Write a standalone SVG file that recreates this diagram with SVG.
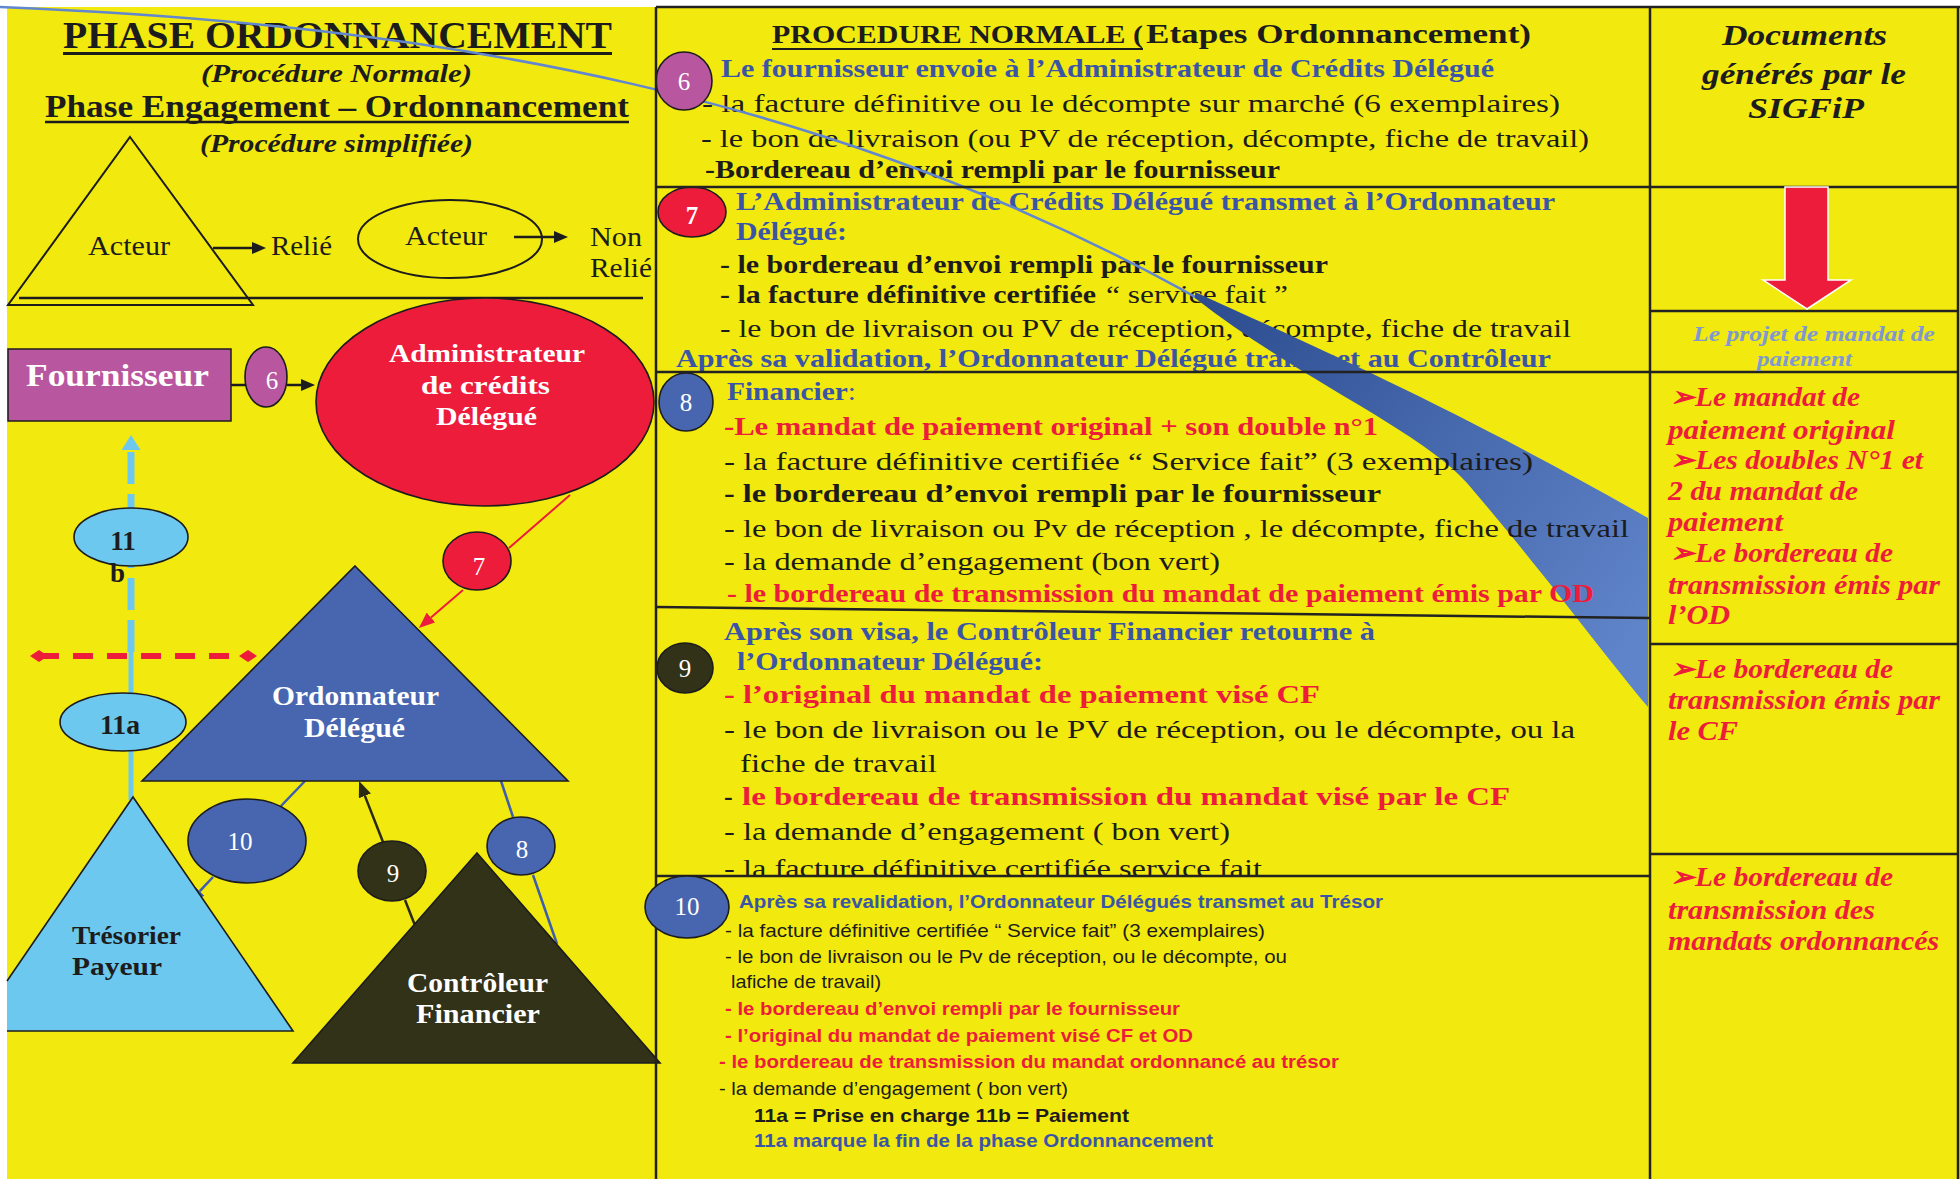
<svg xmlns="http://www.w3.org/2000/svg" width="1960" height="1179" viewBox="0 0 1960 1179">
<defs>
<style>
text{font-family:"Liberation Serif","Times New Roman",serif;fill:#1C1C1C}
.s{font-family:"Liberation Sans",Arial,sans-serif}
.b{font-weight:bold}
.i{font-style:italic}
.bl{fill:#3A55A6}
.rd{fill:#EC1C3A}
.w{fill:#fff}
.lb{fill:#7E98D2}
.grid{stroke:#222;stroke-width:2.5;fill:none}
.edge{stroke:#1C1C1C;stroke-width:1.6}
.num{font-size:25px;text-anchor:middle;fill:#fff}
.f26{font-size:26px}
.f19{font-size:19px}
.f27{font-size:27px}
.rc{font-size:27px;font-weight:bold;font-style:italic;fill:#EC1C3A}
</style>
<linearGradient id="wg" gradientUnits="userSpaceOnUse" x1="1195" y1="292" x2="1648" y2="620">
<stop offset="0" stop-color="#2B4B8E"/><stop offset="1" stop-color="#6084C9"/>
</linearGradient>
<marker id="mK" viewBox="0 0 14 12" refX="0" refY="6" markerWidth="14" markerHeight="12" markerUnits="userSpaceOnUse" orient="auto"><path d="M0,0 L14,6 L0,12 z" fill="#1C1C1C"/></marker>
<marker id="mR" viewBox="0 0 16 13" refX="0" refY="6.5" markerWidth="16" markerHeight="13" markerUnits="userSpaceOnUse" orient="auto"><path d="M0,0 L16,6.5 L0,13 z" fill="#EC1C3A"/></marker>
<marker id="mB" viewBox="0 0 16 13" refX="0" refY="6.5" markerWidth="16" markerHeight="13" markerUnits="userSpaceOnUse" orient="auto"><path d="M0,0 L16,6.5 L0,13 z" fill="#3D5DAE"/></marker>
<marker id="mD" viewBox="0 0 16 13" refX="0" refY="6.5" markerWidth="16" markerHeight="13" markerUnits="userSpaceOnUse" orient="auto"><path d="M0,0 L16,6.5 L0,13 z" fill="#2A2A14"/></marker>
<marker id="mL" viewBox="0 0 15 19" refX="0" refY="9.5" markerWidth="15" markerHeight="19" markerUnits="userSpaceOnUse" orient="auto"><path d="M0,0 L15,9.5 L0,19 z" fill="#6DC8EF"/></marker>
<marker id="mDia" viewBox="0 0 18 12" refX="9" refY="6" markerWidth="18" markerHeight="12" markerUnits="userSpaceOnUse" orient="auto"><path d="M0,6 L9,0 L18,6 L9,12 z" fill="#EC1C3A"/></marker>
</defs>

<rect x="0" y="0" width="1960" height="1179" fill="#fff"/>
<rect x="7" y="7" width="1953" height="1172" fill="#F2E90F"/>

<!-- left column titles -->
<g id="titles">
<text x="63" y="48" class="b" font-size="37" textLength="549" lengthAdjust="spacingAndGlyphs">PHASE ORDONNANCEMENT</text>
<line x1="63" y1="53.5" x2="612" y2="53.5" stroke="#1C1C1C" stroke-width="3"/>
<text x="201" y="82" class="b i" font-size="25" textLength="271" lengthAdjust="spacingAndGlyphs">(Procédure  Normale)</text>
<text x="45" y="117" class="b" font-size="31" textLength="584" lengthAdjust="spacingAndGlyphs">Phase Engagement – Ordonnancement</text>
<line x1="45" y1="122" x2="629" y2="122" stroke="#1C1C1C" stroke-width="2.5"/>
<text x="200" y="152" class="b i" font-size="25" textLength="273" lengthAdjust="spacingAndGlyphs">(Procédure simplifiée)</text>
</g>

<g id="legend">
<polygon points="130,137 253,305 8,305" fill="none" stroke="#1C1C1C" stroke-width="2"/>
<text x="88" y="255" class="f27" textLength="82" lengthAdjust="spacingAndGlyphs">Acteur</text>
<text x="271" y="255" class="f27" textLength="61" lengthAdjust="spacingAndGlyphs">Relié</text>
<ellipse cx="450" cy="239" rx="92" ry="39" fill="none" stroke="#1C1C1C" stroke-width="2"/>
<text x="405" y="245" class="f27" textLength="82" lengthAdjust="spacingAndGlyphs">Acteur</text>
<text x="590" y="246" class="f27" textLength="52" lengthAdjust="spacingAndGlyphs">Non</text>
<text x="590" y="277" class="f27" textLength="62" lengthAdjust="spacingAndGlyphs">Relié</text>
<line x1="19" y1="298" x2="643" y2="298" stroke="#1C1C1C" stroke-width="2.5"/>
</g>

<!-- connectors -->
<g id="connectors" fill="none">
<line x1="213" y1="248" x2="252" y2="248" stroke="#1C1C1C" stroke-width="2.5" marker-end="url(#mK)"/>
<line x1="514" y1="237" x2="554" y2="237" stroke="#1C1C1C" stroke-width="2.5" marker-end="url(#mK)"/>
<line x1="231" y1="385" x2="246" y2="385" stroke="#1C1C1C" stroke-width="2.5"/>
<line x1="287" y1="385" x2="301" y2="385" stroke="#1C1C1C" stroke-width="2.5" marker-end="url(#mK)"/>
<line x1="570" y1="495" x2="509" y2="548" stroke="#EC1C3A" stroke-width="2"/>
<line x1="463" y1="590" x2="431" y2="617.5" stroke="#EC1C3A" stroke-width="2" marker-end="url(#mR)"/>
<line x1="305" y1="781" x2="281" y2="806" stroke="#3D5DAE" stroke-width="2.5"/>
<line x1="213" y1="877" x2="199.8" y2="891.2" stroke="#3D5DAE" stroke-width="2.5" marker-end="url(#mB)"/>
<line x1="405" y1="900" x2="416" y2="928" stroke="#2A2A14" stroke-width="2.5"/>
<line x1="383" y1="842" x2="364.9" y2="795.9" stroke="#2A2A14" stroke-width="2.5" marker-end="url(#mD)"/>
<line x1="501" y1="781" x2="513" y2="817" stroke="#3D5DAE" stroke-width="2.5"/>
<line x1="533" y1="875" x2="557" y2="944" stroke="#3D5DAE" stroke-width="2.5"/>
<line x1="131" y1="652" x2="131" y2="450" stroke="#6DC8EF" stroke-width="7" stroke-dasharray="32 10" marker-end="url(#mL)"/>
<line x1="131" y1="650" x2="131" y2="696" stroke="#6DC8EF" stroke-width="5"/>
<line x1="131" y1="750" x2="131" y2="800" stroke="#6DC8EF" stroke-width="5"/>
<line x1="39" y1="656" x2="248" y2="656" stroke="#EC1C3A" stroke-width="6" stroke-dasharray="20 14" marker-start="url(#mDia)" marker-end="url(#mDia)"/>
</g>

<g id="fournisseur">
<rect x="8" y="349" width="223" height="72" fill="#B8569F" stroke="#1C1C1C" stroke-width="1.5"/>
<text x="26" y="386" class="b w" font-size="32" textLength="183" lengthAdjust="spacingAndGlyphs">Fournisseur</text>
</g>
<g id="step6-left">
<ellipse cx="266" cy="377" rx="21" ry="30" fill="#B8569F" class="edge"/>
<text x="272" y="389" class="num">6</text>
</g>
<g id="administrateur">
<ellipse cx="485" cy="402" rx="169" ry="104" fill="#EC1C3A" class="edge"/>
<text x="389" y="362" class="b w" font-size="26" textLength="196" lengthAdjust="spacingAndGlyphs">Administrateur</text>
<text x="421" y="394" class="b w" font-size="26" textLength="129" lengthAdjust="spacingAndGlyphs">de  crédits</text>
<text x="436" y="425" class="b w" font-size="26" textLength="101" lengthAdjust="spacingAndGlyphs">Délégué</text>
</g>
<g id="step7-left">
<ellipse cx="477" cy="561" rx="34" ry="29" fill="#EC1C3A" class="edge"/>
<text x="479" y="575" class="num">7</text>
</g>
<g id="step11b">
<ellipse cx="131" cy="537" rx="57" ry="29" fill="#6DC8EF" class="edge"/>
<text x="123" y="550" class="b" font-size="27" text-anchor="middle">11</text>
<text x="110" y="582" class="b" font-size="27">b</text>
</g>
<g id="step11a">
<ellipse cx="123" cy="722" rx="63" ry="29" fill="#6DC8EF" class="edge"/>
<text x="100" y="734" class="b" font-size="27" textLength="40" lengthAdjust="spacingAndGlyphs">11a</text>
</g>
<g id="ordonnateur">
<polygon points="355,566 568,781 142,781" fill="#4866B0" class="edge"/>
<text x="272" y="705" class="b w" font-size="27" textLength="167" lengthAdjust="spacingAndGlyphs">Ordonnateur</text>
<text x="304" y="737" class="b w" font-size="27" textLength="101" lengthAdjust="spacingAndGlyphs">Délégué</text>
</g>
<g id="tresorier">
<polygon points="133,797 293,1031 7,1031 7,981" fill="#6DC8EF"/>
<polyline points="7,981 133,797 293,1031 7,1031" fill="none" class="edge"/>
<text x="72" y="944" class="b" font-size="26" textLength="109" lengthAdjust="spacingAndGlyphs">Trésorier</text>
<text x="72" y="975" class="b" font-size="26" textLength="90" lengthAdjust="spacingAndGlyphs">Payeur</text>
</g>
<g id="step10-left">
<ellipse cx="247" cy="841" rx="59" ry="42" fill="#4866B0" class="edge"/>
<text x="240" y="850" class="num">10</text>
</g>
<g id="step9-left">
<ellipse cx="392" cy="871" rx="34" ry="30" fill="#323218" class="edge"/>
<text x="393" y="882" class="num">9</text>
</g>
<g id="step8-left">
<ellipse cx="521" cy="846" rx="34" ry="29" fill="#4866B0" class="edge"/>
<text x="522" y="858" class="num">8</text>
</g>
<g id="controleur">
<polygon points="477,853 660,1063 293,1063" fill="#323218" class="edge"/>
<text x="407" y="992" class="b w" font-size="28" textLength="141" lengthAdjust="spacingAndGlyphs">Contrôleur</text>
<text x="416" y="1023" class="b w" font-size="28" textLength="124" lengthAdjust="spacingAndGlyphs">Financier</text>
</g>

<!-- middle column: sections 6 and 7 -->
<g id="header-mid">
<text x="772" y="43" class="b" font-size="26" textLength="371" lengthAdjust="spacingAndGlyphs">PROCEDURE NORMALE (</text>
<line x1="772" y1="49" x2="1143" y2="49" stroke="#1C1C1C" stroke-width="2"/>
<text x="1146" y="43" class="b" font-size="27" textLength="385" lengthAdjust="spacingAndGlyphs">Etapes Ordonnancement)</text>
</g>
<g id="section6">
<text x="721" y="77" class="b bl f26" textLength="773" lengthAdjust="spacingAndGlyphs">Le fournisseur envoie à l’Administrateur  de Crédits Délégué</text>
<text x="702" y="112" class="f26" textLength="858" lengthAdjust="spacingAndGlyphs">- la facture définitive  ou le décompte sur marché  (6 exemplaires)</text>
<text x="701" y="147" class="f26" textLength="888" lengthAdjust="spacingAndGlyphs">- le bon de livraison (ou PV de réception, décompte, fiche de travail)</text>
<text x="705" y="178" class="b f26" textLength="575" lengthAdjust="spacingAndGlyphs">-Bordereau d’envoi rempli par le fournisseur</text>
</g>
<g id="section7">
<text x="736" y="210" class="b bl f26" textLength="819" lengthAdjust="spacingAndGlyphs">L’Administrateur de Crédits Délégué  transmet à l’Ordonnateur</text>
<text x="736" y="240" class="b bl f26" textLength="111" lengthAdjust="spacingAndGlyphs">Délégué:</text>
<text x="720" y="273" class="b f26" textLength="608" lengthAdjust="spacingAndGlyphs">- le bordereau d’envoi rempli par le fournisseur</text>
<text x="720" y="303" class="b f26" textLength="376" lengthAdjust="spacingAndGlyphs">- la facture définitive certifiée</text>
<text x="1106" y="303" class="f26" textLength="182" lengthAdjust="spacingAndGlyphs">“ service fait ”</text>
<text x="720" y="337" class="f26" textLength="851" lengthAdjust="spacingAndGlyphs">- le bon de livraison ou PV de réception, décompte, fiche de travail</text>
<text x="676" y="367" class="b bl f26" textLength="875" lengthAdjust="spacingAndGlyphs">Après sa validation, l’Ordonnateur  Délégué transmet au  Contrôleur</text>
</g>

<!-- blue comet-shaped link -->
<g id="blue-link">
<path d="M0,7 C420,24 849,88 1249,328" fill="none" stroke="#6287D0" stroke-width="2.5"/>
<path d="M1195,292 C1300,340 1450,405 1648,518 L1648,707 C1600,650 1550,580 1467,483 C1420,430 1300,380 1195,298 Z" fill="url(#wg)"/>
</g>

<g id="step6-mid">
<ellipse cx="684" cy="81" rx="28" ry="29" fill="#B8569F" class="edge"/>
<text x="684" y="90" class="num">6</text>
</g>
<g id="step7-mid">
<ellipse cx="692" cy="212" rx="34" ry="25" fill="#EC1C3A" class="edge"/>
<text x="692" y="224" class="num b">7</text>
</g>

<g id="section8">
<text x="727" y="400" class="b bl f26" textLength="129" lengthAdjust="spacingAndGlyphs">Financier<tspan font-weight="normal">:</tspan></text>
<text x="724" y="435" class="b rd f26" textLength="654" lengthAdjust="spacingAndGlyphs">-Le mandat de paiement original +  son double  n°1</text>
<text x="724" y="470" class="f26" textLength="809" lengthAdjust="spacingAndGlyphs">- la facture définitive certifiée “  Service fait” (3 exemplaires)</text>
<text x="724" y="502" class="b f26" textLength="657" lengthAdjust="spacingAndGlyphs">- le bordereau d’envoi rempli par le fournisseur</text>
<text x="724" y="537" class="f26" textLength="905" lengthAdjust="spacingAndGlyphs">- le bon de livraison ou Pv de réception , le décompte, fiche de travail</text>
<text x="724" y="570" class="f26" textLength="496" lengthAdjust="spacingAndGlyphs">- la demande d’engagement (bon vert)</text>
<text x="727" y="602" class="b rd f26" textLength="867" lengthAdjust="spacingAndGlyphs">- le bordereau de transmission du mandat de paiement émis par OD</text>
</g>
<g id="step8-mid">
<ellipse cx="686" cy="402" rx="27" ry="29" fill="#4866B0" class="edge"/>
<text x="686" y="411" class="num">8</text>
</g>

<g id="section9">
<text x="724" y="640" class="b bl f26" textLength="651" lengthAdjust="spacingAndGlyphs">Après  son visa, le Contrôleur Financier  retourne à</text>
<text x="737" y="670" class="b bl f26" textLength="306" lengthAdjust="spacingAndGlyphs">l’Ordonnateur Délégué:</text>
<text x="724" y="703" class="b rd f26" textLength="596" lengthAdjust="spacingAndGlyphs">- l’original du mandat de paiement visé CF</text>
<text x="724" y="738" class="f26" textLength="851" lengthAdjust="spacingAndGlyphs">- le bon de livraison ou le PV de réception, ou le décompte, ou  la</text>
<text x="740" y="772" class="f26" textLength="197" lengthAdjust="spacingAndGlyphs">fiche de travail</text>
<text x="724" y="805" class="b f26">-</text>
<text x="742" y="805" class="b rd f26" textLength="768" lengthAdjust="spacingAndGlyphs">le bordereau de transmission du mandat visé  par le CF</text>
<text x="724" y="840" class="f26" textLength="506" lengthAdjust="spacingAndGlyphs">- la demande d’engagement ( bon vert)</text>
<text x="724" y="877" class="f26" textLength="538" lengthAdjust="spacingAndGlyphs">- la facture définitive certifiée service fait</text>
</g>
<g id="step9-mid">
<ellipse cx="685" cy="668" rx="28" ry="25" fill="#323218" class="edge"/>
<text x="685" y="677" class="num">9</text>
</g>

<g id="section10">
<text x="739" y="908" class="s b bl f19" textLength="644" lengthAdjust="spacingAndGlyphs">Après sa revalidation, l’Ordonnateur Délégués  transmet au Trésor</text>
<text x="725" y="937" class="s f19" textLength="540" lengthAdjust="spacingAndGlyphs">- la facture  définitive  certifiée  “  Service  fait”  (3 exemplaires)</text>
<text x="725" y="963" class="s f19" textLength="562" lengthAdjust="spacingAndGlyphs">- le bon de livraison  ou le Pv de réception,  ou le décompte,   ou</text>
<text x="731" y="988" class="s f19" textLength="150" lengthAdjust="spacingAndGlyphs">lafiche  de travail)</text>
<text x="725" y="1015" class="s b rd f19" textLength="455" lengthAdjust="spacingAndGlyphs">- le bordereau d’envoi  rempli  par le fournisseur</text>
<text x="725" y="1042" class="s b rd f19" textLength="468" lengthAdjust="spacingAndGlyphs">- l’original  du mandat  de paiement  visé CF et OD</text>
<text x="719" y="1068" class="s b rd f19" textLength="620" lengthAdjust="spacingAndGlyphs">- le bordereau de transmission  du mandat ordonnancé au trésor</text>
<text x="719" y="1095" class="s f19" textLength="349" lengthAdjust="spacingAndGlyphs">- la demande d’engagement  ( bon vert)</text>
<text x="754" y="1122" class="s b f19" textLength="375" lengthAdjust="spacingAndGlyphs">11a = Prise en charge    11b = Paiement</text>
<text x="754" y="1147" class="s b bl f19" textLength="459" lengthAdjust="spacingAndGlyphs">11a  marque  la fin de la phase Ordonnancement</text>
</g>

<!-- grid lines -->
<g id="grid" class="grid">
<line x1="656" y1="7" x2="1960" y2="7"/>
<line x1="656" y1="7" x2="656" y2="1179"/>
<line x1="1650" y1="7" x2="1650" y2="1179"/>
<line x1="1958" y1="7" x2="1958" y2="1179"/>
<line x1="656" y1="187" x2="1958" y2="187"/>
<line x1="656" y1="372" x2="1958" y2="372"/>
<line x1="656" y1="607" x2="1650" y2="618"/>
<line x1="656" y1="876" x2="1650" y2="876"/>
<line x1="1650" y1="311" x2="1958" y2="311"/>
<line x1="1650" y1="644" x2="1958" y2="644"/>
<line x1="1650" y1="854" x2="1958" y2="854"/>
</g>

<g id="step10-mid">
<ellipse cx="687" cy="907" rx="42" ry="31" fill="#4866B0" class="edge"/>
<text x="687" y="915" class="num" font-size="22">10</text>
</g>

<!-- right column -->
<g id="documents-header">
<text x="1722" y="45" class="b i" font-size="30" textLength="165" lengthAdjust="spacingAndGlyphs">Documents</text>
<text x="1702" y="84" class="b i" font-size="30" textLength="204" lengthAdjust="spacingAndGlyphs">générés par le</text>
<text x="1748" y="118" class="b i" font-size="30" textLength="116" lengthAdjust="spacingAndGlyphs">SIGFiP</text>
</g>
<g id="red-arrow">
<polygon points="1785,187 1828,187 1828,280 1851,280 1807,309 1763,280 1785,280" fill="#EC1C3A" stroke="#fff" stroke-width="1.5"/>
</g>
<g id="projet-mandat">
<text x="1693" y="341" class="b i lb" font-size="21" textLength="242" lengthAdjust="spacingAndGlyphs">Le  projet de mandat de</text>
<text x="1757" y="366" class="b i lb" font-size="21" textLength="95" lengthAdjust="spacingAndGlyphs">paiement</text>
</g>
<g id="docs-8">
<text x="1670" y="406" class="rc" textLength="190" lengthAdjust="spacingAndGlyphs">➢Le mandat de</text>
<text x="1668" y="439" class="rc" textLength="227" lengthAdjust="spacingAndGlyphs">paiement  original</text>
<text x="1670" y="469" class="rc" textLength="253" lengthAdjust="spacingAndGlyphs">➢Les doubles  N°1 et</text>
<text x="1668" y="500" class="rc" textLength="190" lengthAdjust="spacingAndGlyphs">2 du mandat de</text>
<text x="1668" y="531" class="rc" textLength="115" lengthAdjust="spacingAndGlyphs">paiement</text>
<text x="1670" y="562" class="rc" textLength="223" lengthAdjust="spacingAndGlyphs">➢Le bordereau de</text>
<text x="1668" y="594" class="rc" textLength="272" lengthAdjust="spacingAndGlyphs">transmission émis par</text>
<text x="1668" y="624" class="rc" textLength="62" lengthAdjust="spacingAndGlyphs">l’OD</text>
</g>
<g id="docs-9">
<text x="1670" y="678" class="rc" textLength="223" lengthAdjust="spacingAndGlyphs">➢Le bordereau de</text>
<text x="1668" y="709" class="rc" textLength="272" lengthAdjust="spacingAndGlyphs">transmission émis par</text>
<text x="1668" y="740" class="rc" textLength="70" lengthAdjust="spacingAndGlyphs">le CF</text>
</g>
<g id="docs-10">
<text x="1670" y="886" class="rc" textLength="223" lengthAdjust="spacingAndGlyphs">➢Le bordereau de</text>
<text x="1668" y="919" class="rc" textLength="207" lengthAdjust="spacingAndGlyphs">transmission des</text>
<text x="1668" y="950" class="rc" textLength="271" lengthAdjust="spacingAndGlyphs">mandats ordonnancés</text>
</g>
</svg>
